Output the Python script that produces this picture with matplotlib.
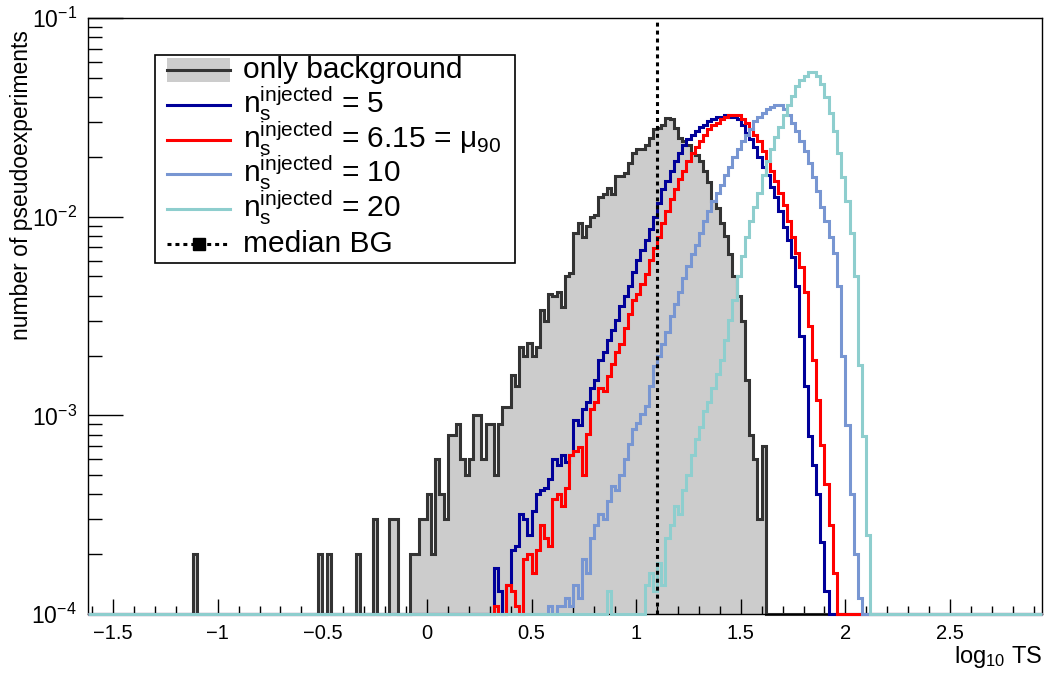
import numpy as np
import matplotlib
matplotlib.use('Agg')
import matplotlib.pyplot as plt
from matplotlib.lines import Line2D
from matplotlib.patches import Rectangle
from matplotlib.ticker import MultipleLocator, FuncFormatter, LogLocator

plt.rcParams['font.family'] = ['Liberation Sans', 'DejaVu Sans']
plt.rcParams['mathtext.fontset'] = 'custom'
plt.rcParams['mathtext.rm'] = 'Liberation Sans'
plt.rcParams['mathtext.it'] = 'Liberation Sans:italic'
plt.rcParams['mathtext.bf'] = 'Liberation Sans:bold'

# binning of log10 TS; bin contents are in units of 1e-4
bin_width = 0.02
x_lo, x_hi = -1.62, 2.94
unit = 1e-4
median_bg = 1.10

# only background: isolated bins + main body
bg_spike_x = [-1.12, -0.52, -0.48, -0.34, -0.26, -0.18, -0.16]
bg_spike_val = [2, 2, 2, 2, 3, 3, 3]
bg_start = -0.08
bg_vals = [2, 2, 3, 3,
           4, 2, 6, 4, 3, 8, 8, 9, 6, 5,
           6, 10, 10, 6, 9, 9, 5, 9, 11, 11,
           16, 14, 22, 20, 23, 20, 22, 34, 30, 41,
           40, 42, 35, 50, 52, 83, 93, 79, 90, 100,
           102, 126, 130, 140, 130, 160, 160, 165, 186, 210,
           220, 220, 230, 250, 275, 280, 290, 315, 310, 280,
           250, 240, 230, 210, 205, 190, 170, 150, 120, 110,
           93, 80, 65, 50, 40, 30, 15, 8, 6, 3,
           7]

# n_s injected = 5
ns5_start = 0.32
ns5_vals = [1.7, 1.3, 1.0, 1.4, 2.1, 2.2, 3.2, 3.0, 2.5, 3.3,
            4.0, 4.2, 4.3, 4.8, 6.0, 5.6, 6.3, 5.8, 6.3, 9.5,
            8.9, 10.7, 11.7, 13.8, 15.1, 19.1, 20.9, 24.0, 26.9, 30.2,
            35.5, 39.8, 44.7, 52.5, 60.3, 67.6, 75.9, 87.1, 100, 117,
            138, 151, 170, 191, 209, 229, 245, 257, 269, 282,
            288, 302, 309, 316, 316, 324, 316, 316, 309, 288,
            263, 245, 224, 200, 178, 162, 141, 126, 107, 89,
            76, 63, 45, 25, 14, 7.9, 5.6, 4.0, 2.3, 1.3]

# n_s injected = 6.15 (mu_90)
ns615_start = 0.32
ns615_vals = [1.1, 1.0, 1.0, 1.4, 1.3, 1.1, 1.0, 1.9, 2.0, 1.6,
              2.1, 2.8, 2.4, 2.2, 3.8, 4.0, 3.5, 4.3, 6.3, 6.6,
              6.9, 5.0, 8.1, 10.7, 11.7, 13.8, 13.2, 15.8, 18.2, 20.9,
              22.9, 27.5, 32.4, 38.0, 40.7, 45.7, 51.3, 60.3, 69.2, 79.4,
              93.3, 107, 123, 138, 155, 170, 191, 209, 224, 240,
              257, 275, 288, 295, 309, 316, 324, 324, 324, 309,
              295, 275, 257, 240, 214, 191, 170, 151, 132, 115,
              95, 79, 66, 56, 42, 28, 19, 12, 7.1, 4.5,
              2.8, 1.6]

# n_s injected = 10
ns10_start = 0.56
ns10_vals = [1.0, 1.1, 1.0, 1.1, 1.1, 1.2, 1.1, 1.4, 1.2, 1.9,
             1.6, 2.4, 2.8, 3.2, 3.0, 3.7, 4.4, 4.2, 5.0, 6.0,
             7.2, 8.5, 9.1, 10.2, 11.2, 14.1, 17.8, 20.0, 22.9, 26.3,
             31.6, 36.3, 41.7, 49.0, 56.2, 64.6, 72.4, 83.2, 95.5, 107,
             120, 132, 145, 162, 178, 200, 219, 240, 257, 275,
             302, 316, 331, 347, 355, 363, 363, 347, 324, 295,
             269, 240, 214, 186, 158, 135, 112, 95, 79, 66,
             45, 20, 8.9, 4.0, 2.0, 1.2]

# n_s injected = 20
ns20_spike_x = [0.86]
ns20_spike_val = [1.3]
ns20_start = 1.04
ns20_vals = [1.4, 1.6, 1.3, 1.8, 1.4, 2.4, 2.8, 3.5, 3.2, 4.2,
             5.0, 6.3, 7.6, 8.7, 10.5, 11.7, 13.8, 16.2, 19.1, 24.0,
             30.2, 38.0, 50.1, 63.1, 79.4, 95.5, 112, 132, 162, 191,
             219, 251, 282, 324, 363, 407, 457, 490, 513, 537,
             537, 513, 468, 398, 331, 269, 209, 158, 120, 83,
             50, 18, 7.9, 2.5]

c_bg_line = '#333333'
c_bg_fill = '#cccccc'
c_ns5 = '#000099'
c_ns615 = '#ff0000'
c_ns10 = '#7896d2'
c_ns20 = '#8ecece'

n_bins = int(round((x_hi - x_lo) / bin_width))
edges = np.round(x_lo + bin_width * np.arange(n_bins + 1), 2)


def full_hist(segments):
    # empty bins sit on the lower frame (1e-4), like ROOT does on a log axis
    h = np.ones(n_bins)
    for start, vals in segments:
        i0 = int(round((start - x_lo) / bin_width))
        h[i0:i0 + len(vals)] = vals
    return h * unit


bg = full_hist([(x, [v]) for x, v in zip(bg_spike_x, bg_spike_val)] + [(bg_start, bg_vals)])
ns5 = full_hist([(ns5_start, ns5_vals)])
ns615 = full_hist([(ns615_start, ns615_vals)])
ns10 = full_hist([(ns10_start, ns10_vals)])
ns20 = full_hist([(x, [v]) for x, v in zip(ns20_spike_x, ns20_spike_val)] + [(ns20_start, ns20_vals)])

W, H = 1046, 674
fig = plt.figure(figsize=(W / 100, H / 100), dpi=100)
ax = fig.add_axes([88 / W, 1 - 614 / H, 954 / W, 596 / H])

lw = 2.2
floor = 1e-4
ax.stairs(bg, edges, baseline=floor, fill=True, color=c_bg_fill, zorder=1)
ax.stairs(bg, edges, baseline=floor, color=c_bg_line, lw=lw, zorder=2, clip_on=False)
ax.stairs(ns5, edges, baseline=floor, color=c_ns5, lw=lw, zorder=3, clip_on=False)
ax.stairs(ns615, edges, baseline=floor, color=c_ns615, lw=lw, zorder=4, clip_on=False)
ax.stairs(ns10, edges, baseline=floor, color=c_ns10, lw=lw, zorder=5, clip_on=False)
ax.stairs(ns20, edges, baseline=floor, color=c_ns20, lw=lw, zorder=6, clip_on=False)
ax.axvline(median_bg, color='black', lw=2.2, ls=(0, (1.3, 1.3)), zorder=7, ymax=0.995)

ax.set_yscale('log')
ax.set_xlim(x_lo, x_hi)
ax.set_ylim(1e-4, 1e-1)

ax.xaxis.set_major_locator(MultipleLocator(0.5))
ax.xaxis.set_minor_locator(MultipleLocator(0.1))
ax.xaxis.set_major_formatter(FuncFormatter(lambda v, p: ('%g' % (round(v, 2) + 0.0)).replace('-', '\u2212')))
ax.yaxis.set_minor_locator(LogLocator(base=10, subs=np.arange(2, 10)))
ax.tick_params(axis='both', which='both', direction='in', top=False, right=False, width=1)
ax.tick_params(axis='x', which='major', length=11, labelsize=14.5, pad=7)
ax.tick_params(axis='x', which='minor', length=5.5)
ax.tick_params(axis='y', which='major', length=25, labelsize=16.5, pad=8)
ax.tick_params(axis='y', which='minor', length=10)
for s in ax.spines.values():
    s.set_linewidth(1)

ax.set_ylabel('number of pseudoexperiments', fontsize=16.5, loc='top')
ax.yaxis.set_label_coords(-0.058, 0.98)
ax.set_xlabel(r'$\mathregular{log_{10}}$ TS', fontsize=17, loc='right')
ax.xaxis.set_label_coords(1.0, -0.05)


# legend drawn in figure pixel coordinates
def fx(px):
    return px / W


def fy(py):
    return 1 - py / H


fig.add_artist(Rectangle((fx(155), fy(263)), fx(515) - fx(155), fy(55) - fy(263),
                         transform=fig.transFigure, facecolor='white', edgecolor='black', lw=1.2, zorder=10))
leg_labels = ['only background',
              r'$\mathregular{n_{s}^{injected}}$ = 5',
              r'$\mathregular{n_{s}^{injected}}$ = 6.15 = $\mathregular{\mu_{90}}$',
              r'$\mathregular{n_{s}^{injected}}$ = 10',
              r'$\mathregular{n_{s}^{injected}}$ = 20',
              'median BG']
leg_colors = [c_bg_line, c_ns5, c_ns615, c_ns10, c_ns20, 'black']
baselines = [78, 113, 148, 182, 217, 252]
for i, (lab, col, yb) in enumerate(zip(leg_labels, leg_colors, baselines)):
    yc = yb - 8
    if i == 0:
        fig.add_artist(Rectangle((fx(167), fy(yc + 12)), fx(230) - fx(167), fy(yc - 12) - fy(yc + 12),
                                 transform=fig.transFigure, facecolor=c_bg_fill, edgecolor='none', zorder=11))
    if i == 5:
        fig.add_artist(Line2D([fx(167), fx(230)], [fy(yc), fy(yc)], transform=fig.transFigure,
                              color=col, lw=2.2, ls=(0, (1.3, 1.3)), zorder=12))
        fig.add_artist(Line2D([fx(198.5)], [fy(yc)], transform=fig.transFigure, marker='s',
                              markersize=8, color='black', zorder=13))
    else:
        fig.add_artist(Line2D([fx(167), fx(230)], [fy(yc), fy(yc)], transform=fig.transFigure,
                              color=col, lw=lw, zorder=12))
    fig.text(fx(243), fy(yb), lab, fontsize=21.5, va='baseline', ha='left', zorder=13)

fig.savefig('out.png', dpi=100)
